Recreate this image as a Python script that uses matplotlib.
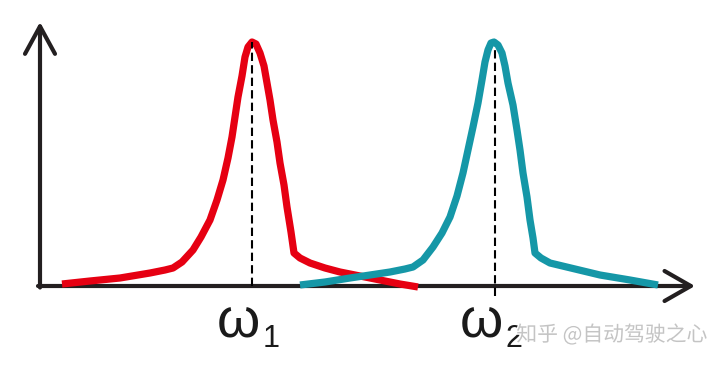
import matplotlib.pyplot as plt
import matplotlib.patheffects as pe

# curve points: x in pixels, y = height above the x axis
red_x = [62, 90, 120, 150, 165, 173, 182, 193, 201, 210, 217, 223, 228, 232,
         235, 238, 242, 245, 248, 252, 256, 260, 264, 267, 270, 273, 277, 280,
         284, 287, 291, 294, 300, 310, 325, 340, 360, 380, 400, 418]
red_y = [2, 5, 8, 13, 16, 18, 24, 36, 49, 66, 86, 106, 128, 149,
         169, 189, 210, 229, 239, 244, 242, 233, 220, 203, 186, 166, 144, 123,
         101, 79, 54, 33, 28, 23, 18, 14, 10, 6, 2, -1]

teal_x = [300, 325, 350, 370, 390, 405, 413, 423, 433, 442, 450, 457, 463, 468,
          473, 478, 482, 485, 488, 491, 494, 498, 502, 505, 508, 513, 517, 520,
          523, 527, 530, 533, 535, 541, 550, 575, 600, 630, 658]
teal_y = [1, 4, 8, 11, 14, 17, 19, 26, 39, 53, 69, 90, 113, 136,
          159, 183, 206, 224, 236, 243, 244, 241, 233, 220, 203, 181, 156, 136,
          113, 89, 66, 48, 33, 28, 23, 17, 11, 6, 1]

peak_x = [252, 495]
peak_top = [244, 238]
peak_bottom = [0, -10]
sub_labels = ['1', '2']

axis_color = '#231f20'
red = '#e60012'
teal = '#1597a7'

fig = plt.figure(figsize=(7.2, 3.66), dpi=100)
ax = fig.add_axes([0, 0, 1, 1])
ax.set_xlim(0, 720)
ax.set_ylim(-80, 286)
ax.axis('off')

# axes with open arrow heads
ax.annotate('', xy=(695, 0), xytext=(38, 0),
            arrowprops=dict(arrowstyle='->,head_length=0.42,head_width=0.24',
                            color=axis_color, lw=3.0, mutation_scale=45,
                            shrinkA=0, shrinkB=0))
ax.annotate('', xy=(40, 264), xytext=(40, -1.5),
            arrowprops=dict(arrowstyle='->,head_length=0.44,head_width=0.24',
                            color=axis_color, lw=3.0, mutation_scale=45,
                            shrinkA=0, shrinkB=0))

ax.plot(red_x, red_y, color=red, lw=5.2, solid_capstyle='butt',
        solid_joinstyle='round', zorder=3)
ax.plot(teal_x, teal_y, color=teal, lw=5.2, solid_capstyle='butt',
        solid_joinstyle='round', zorder=4)

for x, top, bot in zip(peak_x, peak_top, peak_bottom):
    ax.plot([x, x], [bot, top], color='black', lw=1.5,
            dashes=(4, 2), zorder=5)

for x, sub in zip(peak_x, sub_labels):
    ax.text(x - 14, -37, 'ω', fontsize=40, family='Liberation Sans',
            ha='center', va='center', color='#1a1a1a')
    ax.text(x + 19, -53, sub, fontsize=22, family='Liberation Sans',
            ha='center', va='center', color='#1a1a1a')

ax.text(612, -49, '知乎 @自动驾驶之心', fontsize=15,
        family=['Noto Sans CJK SC', 'DejaVu Sans'], ha='center', va='center',
        color='#c4c4c4', zorder=6,
        path_effects=[pe.withStroke(linewidth=2, foreground='white')])

fig.savefig('out.png', dpi=100)
